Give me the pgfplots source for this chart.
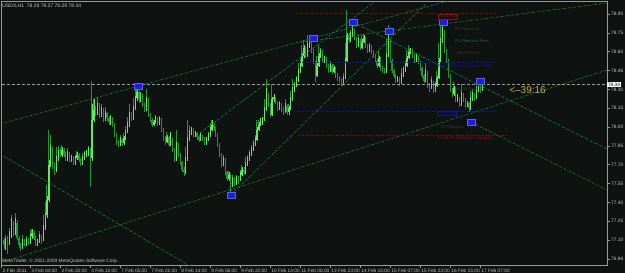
\documentclass[border=0pt]{standalone}
\usepackage{fontspec}
\setmainfont{Liberation Sans}
\usepackage{pgfplots}
\usepackage{pgfplotstable}
\pgfplotsset{compat=1.18}
\definecolor{bg}{HTML}{0E1210}
\definecolor{axgrey}{HTML}{9A9A9A}
\definecolor{lblgrey}{HTML}{C8C8C8}
\definecolor{bullc}{HTML}{62EA62}
\definecolor{bearc}{HTML}{1C9A2C}
\definecolor{tl}{HTML}{1B8C48}
\definecolor{zz}{HTML}{1E1EE0}
\definecolor{pred}{HTML}{8E1010}
\definecolor{pblue}{HTML}{14149E}
\definecolor{pdim}{HTML}{3A3A3A}
\definecolor{pgreen}{HTML}{1E6E2E}
\definecolor{gold}{HTML}{C8B02A}
\newcommand{\sm}{\fontsize{4.8bp}{5.2bp}\selectfont}
\pgfplotstableread{
x o h l c
2 77.10 77.12 77.03 77.06
3 77.06 77.12 77.02 77.10
4 77.10 77.13 76.99 77.08
5 77.08 77.17 77.06 77.14
6 77.14 77.28 77.12 77.22
7 77.22 77.25 77.13 77.16
8 77.16 77.28 77.14 77.24
9 77.24 77.26 77.10 77.12
10 77.12 77.13 77.04 77.06
11 77.06 77.08 77.01 77.04
12 77.04 77.11 77.03 77.09
13 77.09 77.11 77.05 77.07
14 77.07 77.12 77.05 77.10
15 77.10 77.12 77.06 77.08
16 77.08 77.15 77.07 77.13
17 77.13 77.19 77.11 77.16
18 77.16 77.17 77.10 77.12
19 77.12 77.13 77.05 77.07
20 77.07 77.11 77.05 77.09
21 77.09 77.15 77.08 77.13
22 77.13 77.14 77.07 77.10
23 77.10 77.22 77.09 77.20
24 77.20 77.32 77.18 77.30
25 77.30 77.45 77.28 77.42
26 77.42 77.74 77.40 77.70
27 77.70 77.86 77.68 77.82
28 77.82 77.84 77.67 77.70
29 77.70 77.72 77.62 77.66
30 77.66 77.77 77.64 77.75
31 77.75 77.82 77.73 77.80
32 77.80 77.83 77.76 77.78
33 77.78 77.84 77.76 77.82
34 77.82 77.83 77.76 77.78
35 77.78 77.80 77.73 77.75
36 77.75 77.81 77.73 77.79
37 77.79 77.80 77.72 77.74
38 77.74 77.78 77.72 77.76
39 77.76 77.77 77.70 77.72
40 77.72 77.77 77.70 77.75
41 77.75 77.80 77.74 77.78
42 77.78 77.79 77.72 77.74
43 77.74 77.75 77.69 77.71
44 77.71 77.77 77.70 77.75
45 77.75 77.80 77.74 77.78
46 77.78 77.82 77.76 77.79
47 77.79 77.84 77.77 77.82
48 77.82 77.83 77.52 77.75
49 77.75 78.18 77.73 78.06
50 78.06 78.22 78.04 78.14
51 78.14 78.17 78.09 78.12
52 78.12 78.20 78.10 78.18
53 78.18 78.19 78.07 78.10
54 78.10 78.16 78.08 78.14
55 78.14 78.15 78.04 78.06
56 78.06 78.13 78.05 78.11
57 78.11 78.12 78.05 78.07
58 78.07 78.09 78.02 78.04
59 78.04 78.09 78.02 78.07
60 78.07 78.08 78.00 78.02
61 78.02 78.03 77.92 77.94
62 77.94 77.95 77.86 77.88
63 77.88 77.90 77.84 77.86
64 77.86 77.92 77.85 77.90
65 77.90 77.91 77.85 77.87
66 77.87 77.93 77.86 77.91
67 77.91 77.98 77.90 77.96
68 77.96 78.04 77.95 78.02
69 78.02 78.12 78.00 78.10
70 78.10 78.12 78.05 78.07
71 78.07 78.17 78.06 78.15
72 78.15 78.25 78.14 78.23
73 78.23 78.31 78.21 78.28
74 78.28 78.29 78.19 78.22
75 78.22 78.27 78.20 78.25
76 78.25 78.26 78.16 78.18
77 78.18 78.19 78.12 78.14
78 78.14 78.24 78.13 78.22
79 78.22 78.23 78.08 78.10
80 78.10 78.11 78.04 78.06
81 78.06 78.07 78.00 78.02
82 78.02 78.06 78.01 78.04
83 78.04 78.09 78.03 78.07
84 78.07 78.08 78.01 78.03
85 78.03 78.08 78.02 78.06
86 78.06 78.07 77.96 77.98
87 77.98 77.99 77.89 77.91
88 77.91 77.93 77.86 77.88
89 77.88 77.94 77.87 77.92
90 77.92 77.93 77.84 77.86
91 77.86 77.96 77.85 77.90
92 77.90 77.91 77.80 77.82
93 77.82 77.83 77.72 77.74
94 77.74 77.88 77.73 77.86
95 77.86 77.87 77.76 77.78
96 77.78 77.79 77.70 77.72
97 77.72 77.73 77.64 77.66
98 77.66 77.68 77.61 77.64
99 77.64 77.76 77.63 77.74
100 77.74 77.92 77.73 77.90
101 77.90 77.98 77.89 77.96
102 77.96 78.00 77.94 77.98
103 77.98 77.99 77.92 77.94
104 77.94 77.97 77.92 77.95
105 77.95 77.96 77.90 77.92
106 77.92 77.94 77.88 77.90
107 77.90 77.95 77.89 77.93
108 77.93 77.94 77.89 77.91
109 77.91 77.92 77.86 77.88
110 77.88 77.92 77.86 77.90
111 77.90 77.95 77.89 77.93
112 77.93 78.00 77.92 77.98
113 77.98 78.06 77.97 78.02
114 78.02 78.03 77.97 77.99
115 77.99 78.00 77.92 77.94
116 77.94 77.95 77.84 77.86
117 77.86 77.87 77.76 77.78
118 77.78 77.79 77.68 77.70
119 77.70 77.76 77.69 77.74
120 77.74 77.75 77.62 77.64
121 77.64 77.65 77.57 77.59
122 77.59 77.64 77.57 77.62
123 77.62 77.63 77.48 77.54
124 77.54 77.60 77.52 77.58
125 77.58 77.60 77.53 77.56
126 77.56 77.61 77.54 77.59
127 77.59 77.61 77.55 77.58
128 77.58 77.64 77.57 77.62
129 77.62 77.68 77.61 77.66
130 77.66 77.68 77.62 77.64
131 77.64 77.72 77.63 77.70
132 77.70 77.76 77.69 77.74
133 77.74 77.80 77.73 77.78
134 77.78 77.84 77.77 77.82
135 77.82 77.88 77.81 77.86
136 77.86 77.92 77.85 77.90
137 77.90 78.00 77.89 77.98
138 77.98 78.04 77.97 78.02
139 78.02 78.07 78.01 78.04
140 78.04 78.08 78.02 78.06
141 78.06 78.16 78.05 78.14
142 78.14 78.31 78.13 78.26
143 78.26 78.27 78.16 78.18
144 78.18 78.19 78.08 78.10
145 78.10 78.24 78.09 78.22
146 78.22 78.26 78.20 78.23
147 78.23 78.24 78.18 78.20
148 78.20 78.21 78.13 78.15
149 78.15 78.20 78.14 78.18
150 78.18 78.19 78.12 78.14
151 78.14 78.16 78.10 78.12
152 78.12 78.19 78.11 78.17
153 78.17 78.18 78.10 78.12
154 78.12 78.17 78.10 78.15
155 78.15 78.24 78.14 78.22
156 78.22 78.32 78.21 78.30
157 78.30 78.35 78.28 78.33
158 78.33 78.40 78.32 78.37
159 78.37 78.46 78.36 78.44
160 78.44 78.52 78.43 78.49
161 78.49 78.59 78.48 78.57
162 78.57 78.65 78.55 78.63
163 78.63 78.64 78.55 78.57
164 78.57 78.67 78.56 78.65
165 78.65 78.69 78.63 78.68
166 78.68 78.69 78.59 78.61
167 78.61 78.62 78.50 78.52
168 78.52 78.53 78.36 78.41
169 78.41 78.51 78.40 78.49
170 78.49 78.59 78.48 78.57
171 78.57 78.62 78.55 78.60
172 78.60 78.61 78.51 78.53
173 78.53 78.57 78.51 78.55
174 78.55 78.56 78.47 78.49
175 78.49 78.50 78.43 78.45
176 78.45 78.51 78.44 78.49
177 78.49 78.50 78.42 78.44
178 78.44 78.49 78.43 78.47
179 78.47 78.48 78.39 78.41
180 78.41 78.43 78.37 78.39
181 78.39 78.41 78.35 78.37
182 78.37 78.39 78.33 78.35
183 78.35 78.41 78.34 78.39
184 78.39 78.55 78.38 78.53
185 78.53 78.75 78.52 78.73
186 78.73 78.75 78.67 78.69
187 78.69 78.76 78.68 78.73
188 78.73 78.81 78.72 78.77
189 78.77 78.78 78.69 78.71
190 78.71 78.72 78.63 78.65
191 78.65 78.71 78.64 78.69
192 78.69 78.70 78.61 78.63
193 78.63 78.70 78.62 78.68
194 78.68 78.73 78.67 78.71
195 78.71 78.72 78.63 78.65
196 78.65 78.66 78.59 78.61
197 78.61 78.66 78.60 78.64
198 78.64 78.65 78.58 78.60
199 78.60 78.61 78.55 78.57
200 78.57 78.58 78.51 78.53
201 78.53 78.54 78.47 78.49
202 78.49 78.57 78.48 78.55
203 78.55 78.56 78.45 78.47
204 78.47 78.49 78.43 78.45
205 78.45 78.47 78.42 78.44
206 78.44 78.59 78.43 78.57
207 78.57 78.74 78.56 78.69
208 78.69 78.70 78.51 78.53
209 78.53 78.54 78.43 78.45
210 78.45 78.46 78.39 78.41
211 78.41 78.42 78.35 78.37
212 78.37 78.41 78.36 78.39
213 78.39 78.40 78.33 78.35
214 78.35 78.43 78.34 78.41
215 78.41 78.47 78.40 78.45
216 78.45 78.51 78.44 78.49
217 78.49 78.57 78.48 78.55
218 78.55 78.62 78.54 78.60
219 78.60 78.63 78.58 78.61
220 78.61 78.62 78.55 78.57
221 78.57 78.58 78.51 78.53
222 78.53 78.58 78.52 78.56
223 78.56 78.57 78.50 78.52
224 78.52 78.53 78.45 78.47
225 78.47 78.48 78.39 78.41
226 78.41 78.42 78.35 78.37
227 78.37 78.46 78.36 78.44
228 78.44 78.45 78.31 78.33
229 78.33 78.35 78.28 78.31
230 78.31 78.38 78.30 78.36
231 78.36 78.37 78.27 78.30
232 78.30 78.35 78.28 78.33
233 78.33 78.41 78.32 78.39
234 78.39 78.55 78.38 78.53
235 78.53 78.71 78.52 78.69
236 78.69 78.80 78.67 78.76
237 78.76 78.77 78.59 78.61
238 78.61 78.62 78.51 78.53
239 78.53 78.54 78.39 78.41
240 78.41 78.42 78.28 78.30
241 78.30 78.31 78.24 78.26
242 78.26 78.33 78.25 78.31
243 78.31 78.32 78.20 78.22
244 78.22 78.26 78.20 78.23
245 78.23 78.24 78.16 78.18
246 78.18 78.28 78.17 78.26
247 78.26 78.27 78.20 78.22
248 78.22 78.23 78.15 78.17
249 78.17 78.21 78.16 78.19
250 78.19 78.20 78.12 78.15
251 78.15 78.24 78.14 78.22
252 78.22 78.28 78.21 78.26
253 78.26 78.27 78.21 78.23
254 78.23 78.32 78.22 78.30
255 78.30 78.33 78.28 78.31
256 78.31 78.33 78.27 78.29
257 78.29 78.37 78.29 78.34
}\bars
\pgfplotsset{
  tline/.style={tl, line width=0.6bp, dash pattern=on 2.2bp off 1.2bp on 0.6bp off 1.2bp, forget plot},
}
\begin{document}
\begin{tikzpicture}
\fill[bg] (-1.5bp,-8bp) rectangle (623.5bp,265bp);
\begin{axis}[
  at={(0,0)}, anchor=south west, scale only axis,
  width=605.5bp, height=263.5bp,
  xmin=0.8, xmax=323.7, ymin=76.902, ymax=79.0,
  clip mode=individual,
  axis line style={draw=axgrey, line width=0.7bp},
  xtick={0.8,16,32,48,64,80,96,112,128,144,160,176,192,208,224,240,256},
  xticklabels={2 Feb 2011,3 Feb 04:00,3 Feb 20:00,4 Feb 12:00,7 Feb 05:00,7 Feb 21:00,8 Feb 14:00,9 Feb 06:00,9 Feb 22:00,10 Feb 14:00,11 Feb 06:00,13 Feb 23:00,14 Feb 15:00,15 Feb 07:00,15 Feb 23:00,16 Feb 15:00,17 Feb 07:00},
  ytick={76.95,77.1,77.25,77.4,77.55,77.7,77.85,78,78.15,78.3,78.45,78.6,78.75,78.9},
  yticklabels={76.96,77.10,77.25,77.40,77.55,77.70,77.85,78.00,78.15,78.30,78.46,78.60,78.75,78.90},
  xtick pos=left, ytick pos=right, yticklabel pos=right,
  tick align=outside, major tick length=2.5bp,
  tick style={draw=axgrey, line width=0.6bp},
  ticklabel style={font=\sm, text=lblgrey, inner sep=0pt},
  xticklabel style={anchor=north west, xshift=1.2bp, yshift=-1.5bp},
  yticklabel style={anchor=west, xshift=1.5bp},
]
% candles: every bar in the bear colour first
\addplot[forget plot, y filter/.expression={\thisrow{c}>-1 ? y : nan},
  color=bearc, draw=none, no markers,
  error bars/.cd, y dir=plus, y explicit, error mark=none,
  error bar style={color=bearc, draw=bearc, solid, line cap=butt, line width=0.45bp}]
  table[x=x, y=l, y error plus expr=\thisrow{h}-\thisrow{l}] {\bars};
\addplot[forget plot, y filter/.expression={\thisrow{c}>-1 ? y : nan},
  color=bearc, draw=none, no markers,
  error bars/.cd, y dir=plus, y explicit, error mark=none,
  error bar style={color=bearc, draw=bearc, solid, line cap=butt, line width=0.85bp}]
  table[x=x, y=c, y error plus expr={abs(\thisrow{o}-\thisrow{c})}] {\bars};
% rising bars overdrawn in the bull colour
\addplot[forget plot, y filter/.expression={\thisrow{c}>=\thisrow{o} ? y : nan},
  color=bullc, draw=none, no markers,
  error bars/.cd, y dir=plus, y explicit, error mark=none,
  error bar style={color=bullc, draw=bullc, solid, line cap=butt, line width=0.45bp}]
  table[x=x, y=l, y error plus expr=\thisrow{h}-\thisrow{l}] {\bars};
\addplot[forget plot, y filter/.expression={\thisrow{c}>=\thisrow{o} ? y : nan},
  color=bullc, draw=none, no markers,
  error bars/.cd, y dir=plus, y explicit, error mark=none,
  error bar style={color=bullc, draw=bullc, solid, line cap=butt, line width=0.85bp}]
  table[x=x, y=o, y error plus expr=\thisrow{c}-\thisrow{o}] {\bars};
% trend lines
\addplot[tline] coordinates {(0,78.024) (260,79.09)};
\addplot[tline] coordinates {(0,77.786) (110,76.817)};
\addplot[tline] coordinates {(0,76.918) (323.7,78.454)};
\addplot[tline] coordinates {(123.2,77.459) (226.7,78.976)};
\addplot[tline] coordinates {(106.7,77.953) (200,79.0)};
\addplot[tline] coordinates {(188.3,78.836) (323.7,77.825)};
\addplot[tline] coordinates {(251.2,78.040) (323.7,77.499)};
\addplot[tline] coordinates {(160,78.675) (323.7,78.988)};
% pivot levels
\addplot[pred, line width=0.5bp, dash pattern=on 1bp off 1.5bp, forget plot] coordinates {(158.4,78.908) (265,78.908)};
\addplot[pblue, line width=0.6bp, dash pattern=on 1.5bp off 1bp, forget plot] coordinates {(158.4,78.518) (265,78.518)};
\addplot[pblue, line width=0.6bp, dash pattern=on 1.5bp off 1bp, forget plot] coordinates {(158.4,78.128) (265,78.128)};
\addplot[pred, line width=0.5bp, dash pattern=on 1bp off 1.5bp, forget plot] coordinates {(159,77.937) (270,77.937)};
% current price line
\addplot[axgrey, line width=0.6bp, dash pattern=on 3bp off 2bp, forget plot] coordinates {(0.8,78.34) (323.7,78.34)};
% zigzag markers
\addplot[only marks, mark=square*, mark size=3bp,
  mark options={fill=zz, draw=zz!70!white, line width=0.4bp, xscale=1.3, yscale=0.95}]
  coordinates {(73.6,78.327) (123.2,77.459) (166.9,78.709) (188.3,78.836) (207.5,78.765) (236.3,78.836) (251.2,78.040) (256,78.367)};
% texts
\node[anchor=north west, inner sep=0pt, font=\fontsize{5bp}{5.5bp}\selectfont, text=lblgrey] at (axis cs:1.2,78.985) {USDX,H1~~78.29 78.37 78.29 78.34};
\node[anchor=south west, inner sep=0pt, font=\fontsize{4.8bp}{5.2bp}\selectfont, text=lblgrey] at (axis cs:1.2,76.915) {MetaTrader, © 2001-2009 MetaQuotes Software Corp.};
\node[anchor=west, fill=white, text=black, inner sep=0.8bp, font=\sm] at (axis cs:323.7,78.34) {78.34};
\node[anchor=west, inner sep=0pt, font=\fontsize{10bp}{11bp}\selectfont, text=gold] at (axis cs:271.5,78.295) {<--39:16};
\node[anchor=west, draw=pred, inner sep=0.5bp, font=\fontsize{4bp}{4.5bp}\selectfont, text=pred] at (axis cs:233.6,78.88) {78.91 | R3};
\node[anchor=west, inner sep=0pt, font=\fontsize{4bp}{4.5bp}\selectfont, text=pdim] at (axis cs:242.7,78.78) {R2 Fibonacci};
\node[anchor=west, inner sep=0pt, font=\fontsize{4bp}{4.5bp}\selectfont, text=pgreen] at (axis cs:242.7,78.686) {R1 Fibonacci Pivot};
\node[anchor=west, inner sep=0pt, font=\fontsize{4bp}{4.5bp}\selectfont, text=pdim] at (axis cs:243.7,78.59) {Mid R1 Pivot};
\node[anchor=west, inner sep=0pt, font=\fontsize{4.5bp}{5bp}\selectfont, text=pblue] at (axis cs:233,78.49) {78.52 Fibonacci Pivot Point};
\node[anchor=west, inner sep=0pt, font=\fontsize{4bp}{4.5bp}\selectfont, text=pdim] at (axis cs:242.7,78.30) {Mid S1 Pivot};
\node[anchor=west, draw=pblue, inner sep=0.4bp, font=\fontsize{4.5bp}{5bp}\selectfont, text=pblue] at (axis cs:233,78.11) {78.13 S1};
\node[anchor=west, inner sep=0pt, font=\fontsize{4bp}{4.5bp}\selectfont, text=pdim] at (axis cs:234.7,77.999) {S2 Fibonacci};
\node[anchor=west, inner sep=0pt, font=\fontsize{4.5bp}{5bp}\selectfont, text=pred] at (axis cs:233,77.91) {77.94 S3 Fibonacci Support};
\end{axis}
\end{tikzpicture}
\end{document}
